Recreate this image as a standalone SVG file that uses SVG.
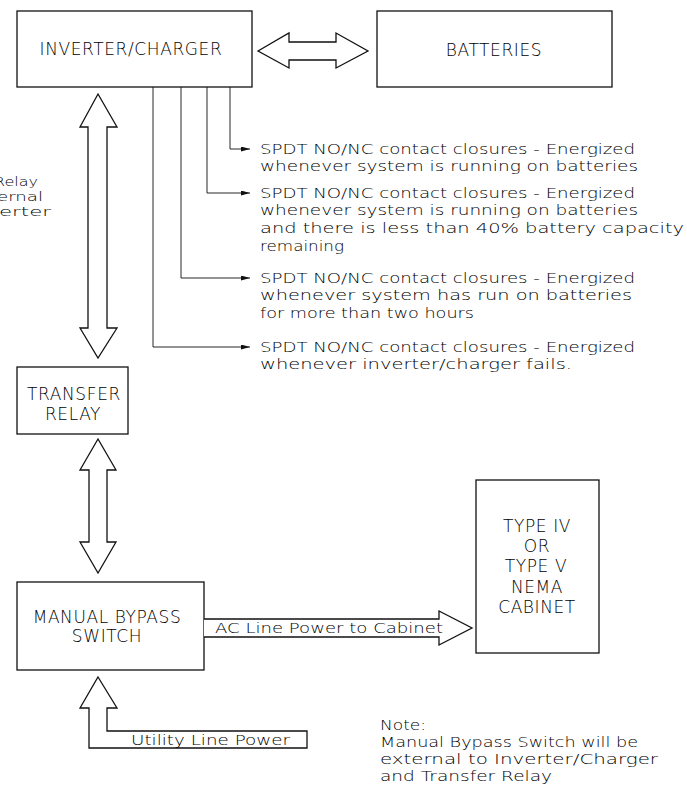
<svg xmlns="http://www.w3.org/2000/svg" width="687" height="788" viewBox="0 0 687 788">
<style>
.box{fill:none;stroke:#111;stroke-width:1.3}
.fat{fill:#fff;stroke:#111;stroke-width:1.3;stroke-linejoin:miter}
.wire{fill:none;stroke:#111;stroke-width:0.9}
.lbl{font-family:"DejaVu Sans","Liberation Sans",sans-serif;font-size:17px;font-weight:200;fill:#000;text-anchor:middle;letter-spacing:0.6px}
.txt{font-family:"DejaVu Sans","Liberation Sans",sans-serif;font-size:14px;font-weight:200;fill:#000}
.cut{font-size:13px}
</style>
<defs>
<marker id="ah" markerUnits="userSpaceOnUse" markerWidth="10" markerHeight="6" refX="9" refY="2.5" orient="auto">
<path d="M0,0 L9,2.5 L0,5 z" fill="#111"/>
</marker>
</defs>
<rect width="687" height="788" fill="#fff"/>

<g id="inverter">
<rect class="box" x="17" y="11" width="235" height="76"/>
<text class="lbl" x="131" y="55">INVERTER/CHARGER</text>
</g>
<g id="batteries">
<rect class="box" x="377" y="11" width="235" height="76"/>
<text class="lbl" x="494" y="56">BATTERIES</text>
</g>
<g id="transfer-relay">
<rect class="box" x="17" y="367" width="111" height="67"/>
<text class="lbl" x="74" y="400">TRANSFER</text>
<text class="lbl" x="73" y="420">RELAY</text>
</g>
<g id="manual-bypass">
<rect class="box" x="17" y="582" width="187" height="88"/>
<text class="lbl" x="107" y="623">MANUAL BYPASS</text>
<text class="lbl" x="107" y="642">SWITCH</text>
</g>
<g id="cabinet">
<rect class="box" x="476" y="480" width="123" height="173"/>
<text class="lbl" x="537" y="532">TYPE IV</text>
<text class="lbl" x="537" y="552">OR</text>
<text class="lbl" x="536" y="572">TYPE V</text>
<text class="lbl" x="537" y="593">NEMA</text>
<text class="lbl" x="537" y="613">CABINET</text>
</g>

<g id="connectors">
<polygon class="fat" points="258,51 289,33 289,42 336,42 336,33 368,51 336,68 336,60 289,60 289,68"/>
<polygon class="fat" points="98,94 117,127 107,127 107,328 117,328 98,358 80,328 88,328 88,127 80,127"/>
<polygon class="fat" points="98,439 116,470 107,470 107,542 116,542 98,573 80,542 89,542 89,470 80,470"/>
<polygon class="fat" points="98,677 117,708 107,708 107,731 307,731 307,748 89,748 89,708 80,708"/>
<path class="fat" d="M204,619 L439,619 L439,611 L472,628 L439,645 L439,637 L204,637"/>
<polyline class="wire" points="230,87 230,149 250,149" marker-end="url(#ah)"/>
<polyline class="wire" points="207,87 207,193 250,193" marker-end="url(#ah)"/>
<polyline class="wire" points="181,87 181,278 250,278" marker-end="url(#ah)"/>
<polyline class="wire" points="153,87 153,347 250,347" marker-end="url(#ah)"/>
<text class="txt" x="215" y="633" textLength="228" lengthAdjust="spacingAndGlyphs">AC Line Power to Cabinet</text>
<text class="txt" x="131" y="745" textLength="159" lengthAdjust="spacingAndGlyphs">Utility Line Power</text>
</g>

<g id="notes">
<text class="txt" x="260" y="154" textLength="375" lengthAdjust="spacingAndGlyphs">SPDT NO/NC contact closures - Energized</text>
<text class="txt" x="260" y="171" textLength="378" lengthAdjust="spacingAndGlyphs">whenever system is running on batteries</text>
<text class="txt" x="260" y="198" textLength="375" lengthAdjust="spacingAndGlyphs">SPDT NO/NC contact closures - Energized</text>
<text class="txt" x="260" y="215" textLength="378" lengthAdjust="spacingAndGlyphs">whenever system is running on batteries</text>
<text class="txt" x="260" y="233" textLength="424" lengthAdjust="spacingAndGlyphs">and there is less than 40% battery capacity</text>
<text class="txt" x="260" y="251" textLength="84" lengthAdjust="spacingAndGlyphs">remaining</text>
<text class="txt" x="260" y="283" textLength="375" lengthAdjust="spacingAndGlyphs">SPDT NO/NC contact closures - Energized</text>
<text class="txt" x="260" y="300" textLength="372" lengthAdjust="spacingAndGlyphs">whenever system has run on batteries</text>
<text class="txt" x="260" y="318" textLength="214" lengthAdjust="spacingAndGlyphs">for more than two hours</text>
<text class="txt" x="260" y="352" textLength="375" lengthAdjust="spacingAndGlyphs">SPDT NO/NC contact closures - Energized</text>
<text class="txt" x="260" y="369" textLength="312" lengthAdjust="spacingAndGlyphs">whenever inverter/charger fails.</text>
<text class="txt cut" x="-6" y="186" textLength="44" lengthAdjust="spacingAndGlyphs">Relay</text>
<text class="txt cut" x="-3" y="201" textLength="46" lengthAdjust="spacingAndGlyphs">ernal</text>
<text class="txt cut" x="-1" y="216" textLength="52" lengthAdjust="spacingAndGlyphs">erter</text>
<text class="txt" x="380" y="730" textLength="46" lengthAdjust="spacingAndGlyphs">Note:</text>
<text class="txt" x="380" y="747" textLength="258" lengthAdjust="spacingAndGlyphs">Manual Bypass Switch will be</text>
<text class="txt" x="380" y="764" textLength="278" lengthAdjust="spacingAndGlyphs">external to Inverter/Charger</text>
<text class="txt" x="380" y="781" textLength="172" lengthAdjust="spacingAndGlyphs">and Transfer Relay</text>
</g>
</svg>
